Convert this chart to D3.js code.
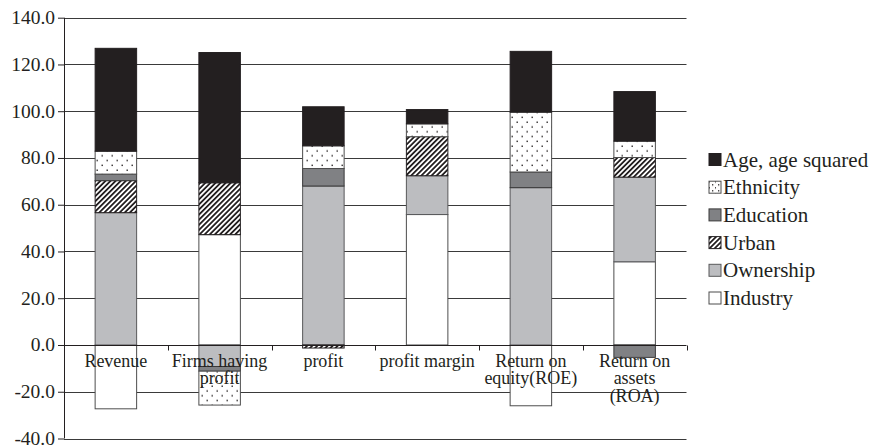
<!DOCTYPE html>
<html><head><meta charset="utf-8">
<script src="https://cdn.jsdelivr.net/npm/d3@7/dist/d3.min.js"></script>
<style>body{margin:0;background:#fff;} svg{display:block;} text{font-family:"Liberation Serif","Times New Roman",serif;fill:#231f20;}</style>
</head><body>
<svg id="c" width="874" height="446"></svg>
<script>
const categories = [["Revenue"],["Firms having","profit"],["profit"],["profit margin"],["Return on","equity(ROE)"],["Return on","assets","(ROA)"]];
const seriesNames = ["Industry","Ownership","Urban","Education","Ethnicity","Age, age squared"];
const industry  = [-27.3, 47.2,  0.0, 55.8, -26.0, 35.6];
const ownership = [ 56.6, -9.2, 68.0, 16.6,  67.3, 36.2];
const urban     = [ 13.7, 22.2, -1.3, 16.7,   0.0,  8.4];
const education = [  2.8, -2.0,  7.5,  0.0,   6.7, -5.3];
const ethnicity = [  9.8,-14.5,  9.7,  5.5,  25.6,  7.0];
const age       = [ 44.0, 55.7, 16.7,  6.1,  26.0, 21.2];
const tickValues = [-40,-20,0,20,40,60,80,100,120,140];
const tickLabels = ["-40.0","-20.0","0.0","20.0","40.0","60.0","80.0","100.0","120.0","140.0"];

const seriesVals = [industry, ownership, urban, education, ethnicity, age];
const rows = categories.map((c,i)=>{const o={cat:c.join(" ")};seriesNames.forEach((s,j)=>o[s]=seriesVals[j][i]);return o;});

const svg = d3.select("#c");
const defs = svg.append("defs");
const dots = defs.append("pattern").attr("id","dots").attr("patternUnits","userSpaceOnUse").attr("width",10).attr("height",9.6);
dots.append("rect").attr("width",10).attr("height",9.6).attr("fill","#fff");
dots.append("rect").attr("x",1.5).attr("y",1.5).attr("width",1.4).attr("height",1.4).attr("fill","#231f20");
dots.append("rect").attr("x",6.5).attr("y",6.3).attr("width",1.4).attr("height",1.4).attr("fill","#231f20");
const hatch = defs.append("pattern").attr("id","hatch").attr("patternUnits","userSpaceOnUse").attr("width",3.6).attr("height",3.6).attr("patternTransform","rotate(45)");
hatch.append("rect").attr("width",3.6).attr("height",3.6).attr("fill","#fff");
hatch.append("rect").attr("width",1.8).attr("height",3.6).attr("fill","#231f20");
const ldots = defs.append("pattern").attr("id","ldots").attr("patternUnits","userSpaceOnUse").attr("width",6).attr("height",6).attr("x",709).attr("y",182);
ldots.append("rect").attr("width",6).attr("height",6).attr("fill","#fff");
ldots.append("rect").attr("x",2).attr("y",1).attr("width",1.3).attr("height",1.3).attr("fill","#231f20");
ldots.append("rect").attr("x",5).attr("y",4).attr("width",1.3).attr("height",1.3).attr("fill","#231f20");

const fills = {"Industry":"#ffffff","Ownership":"#bcbdc0","Urban":"url(#hatch)","Education":"#808184","Ethnicity":"url(#dots)","Age, age squared":"#231f20"};
const legendFills = Object.assign({}, fills, {"Ethnicity":"url(#ldots)"});
const strokes = {"Industry":"#4d4d4d","Ownership":"#58595b","Urban":"#231f20","Education":"#3a3a3a","Ethnicity":"#4d4d4d","Age, age squared":"#231f20"};

const x = d3.scaleBand().domain(rows.map(r=>r.cat)).range([64,686.5]).padding(0);
const y = d3.scaleLinear().domain([-40,140]).range([438.5,17.7]);
const stack = d3.stack().keys(seriesNames).offset(d3.stackOffsetDiverging);
const stacked = stack(rows);

// gridlines
svg.append("g").selectAll("line").data(tickValues.filter(v=>v!==0)).join("line")
  .attr("x1",64).attr("x2",686.5).attr("y1",d=>Math.round(y(d))+0.5).attr("y2",d=>Math.round(y(d))+0.5)
  .attr("stroke","#3a3a3a").attr("stroke-width",1);

// bars
const bw = x.bandwidth()*0.4, bo = x.bandwidth()*0.3;
svg.append("g").selectAll("g").data(stacked).join("g")
  .attr("fill",d=>fills[d.key]).attr("stroke",d=>strokes[d.key]).attr("stroke-width",1)
  .selectAll("rect").data(d=>d.filter(p=>Math.abs(p[1]-p[0])>0.001)).join("rect")
  .attr("x",d=>x(d.data.cat)+bo).attr("width",bw)
  .attr("y",d=>y(Math.max(d[0],d[1]))).attr("height",d=>Math.abs(y(d[0])-y(d[1])));

// left axis
const yAxis = d3.axisLeft(y).tickValues(tickValues).tickFormat((d,i)=>tickLabels[i]).tickSize(6).tickPadding(3);
const ga = svg.append("g").attr("transform","translate(64,0)").call(yAxis);
ga.select(".domain").attr("stroke","#231f20").attr("d","M0.5,"+y(140)+"V"+y(-40));
ga.selectAll(".tick line").attr("stroke","#231f20");
ga.selectAll(".tick text").attr("font-size","19.5px").attr("font-family","Liberation Serif").attr("fill","#231f20").attr("dy","0.3em");

// zero axis
const zy = Math.round(y(0))+0.5;
svg.append("line").attr("x1",64).attr("x2",686.5).attr("y1",zy).attr("y2",zy).attr("stroke","#231f20");
const bounds = x.domain().map(c=>x(c)).concat([x.range()[1]]);
svg.append("g").selectAll("line").data(bounds).join("line")
  .attr("x1",d=>Math.round(d)+0.5).attr("x2",d=>Math.round(d)+0.5).attr("y1",zy).attr("y2",zy+5).attr("stroke","#231f20");

// category labels
const lg = svg.append("g");
categories.forEach((c,i)=>{
  const t = lg.append("text").attr("x",x(rows[i].cat)+x.bandwidth()/2).attr("y",366.5).attr("text-anchor","middle").attr("font-size","18px");
  c.forEach((line,k)=>t.append("tspan").attr("x",x(rows[i].cat)+x.bandwidth()/2).attr("dy",k===0?0:17.5).text(line));
});

// legend
const legOrder = seriesNames.slice().reverse();
const leg = svg.append("g").selectAll("g").data(legOrder).join("g").attr("transform",(d,i)=>`translate(709,${159.5+i*27.7})`);
leg.append("rect").attr("x",0).attr("y",-6).attr("width",12).attr("height",12)
  .attr("fill",d=>legendFills[d]).attr("stroke",d=>strokes[d]).attr("stroke-width",1);
leg.append("text").attr("x",14).attr("y",7).attr("font-size","21px").text(d=>d);
</script>
</body></html>
